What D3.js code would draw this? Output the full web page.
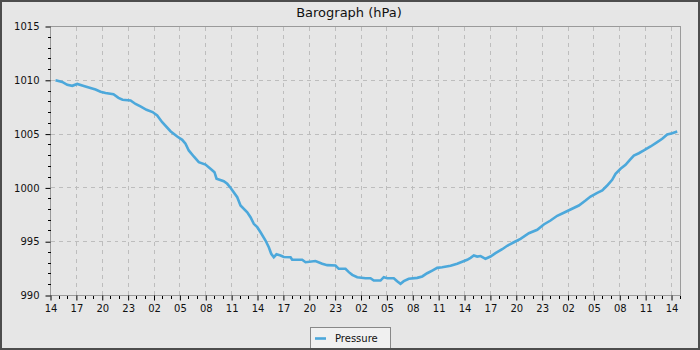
<!DOCTYPE html>
<html>
<head>
<meta charset="utf-8">
<script src="https://cdn.jsdelivr.net/npm/d3@7"></script>
<style>
  html, body { margin: 0; padding: 0; background: #e6e6e6; }
  svg { display: block; }
  text { font-family: "DejaVu Sans", sans-serif; fill: #111; }
</style>
</head>
<body>
<svg id="chart" width="700" height="350"></svg>
<script>
// ---- data (hours since 14:00 of first day, pressure in hPa) ----
const hours = [0.58,1.36,1.94,2.52,3.10,3.86,4.44,5.22,5.80,6.38,7.30,7.88,8.35,9.28,9.86,10.43,11.13,11.83,12.37,12.95,
  13.91,14.69,15.27,15.65,16.03,16.61,17.19,17.97,18.55,19.01,19.25,20.09,20.49,20.87,21.65,22.03,22.81,23.19,23.57,23.97,
  24.35,24.93,25.31,25.59,25.89,26.20,26.67,27.05,27.83,28.02,29.18,29.57,30.72,31.50,32.08,33.04,33.42,34.20,34.59,34.98,
  35.56,36.52,37.10,37.48,38.26,38.64,39.04,39.80,40.19,40.58,40.96,41.54,42.52,43.10,43.67,44.26,44.83,45.41,46.38,47.15,
  47.73,48.31,48.70,49.08,49.47,49.86,50.43,51.01,51.59,52.37,52.95,53.72,54.49,55.46,56.43,57.19,57.97,58.75,59.51,60.29,
  61.25,62.03,62.61,63.39,63.97,64.54,65.12,65.51,66.09,66.67,67.17,67.63,68.21,68.79,69.57,70.34,70.92,71.50,72.08,72.66];
const pressure = [1010.0,1009.85,1009.58,1009.49,1009.66,1009.47,1009.33,1009.14,1008.94,1008.82,1008.71,1008.37,1008.19,1008.12,1007.80,1007.57,1007.26,1007.05,1006.73,1006.11,
  1005.27,1004.78,1004.47,1004.10,1003.48,1002.92,1002.39,1002.17,1001.78,1001.46,1000.85,1000.62,1000.38,1000.01,999.14,998.36,997.74,997.28,996.66,996.35,
  995.88,995.11,994.49,993.88,993.56,993.83,993.72,993.58,993.56,993.32,993.32,993.09,993.21,992.95,992.82,992.79,992.48,992.48,992.17,991.92,
  991.70,991.61,991.61,991.39,991.39,991.70,991.61,991.61,991.33,991.09,991.33,991.55,991.64,991.77,992.07,992.32,992.57,992.63,992.76,992.95,
  993.13,993.32,993.50,993.72,993.62,993.67,993.41,993.62,993.93,994.30,994.62,994.95,995.27,995.79,996.11,996.60,996.97,997.41,997.69,997.99,
  998.36,998.83,999.20,999.54,999.76,1000.22,1000.75,1001.31,1001.78,1002.15,1002.61,1003.01,1003.22,1003.48,1003.85,1004.25,1004.56,1004.96,1005.08,1005.24];
const xTickHours = [0,3,6,9,12,15,18,21,24,27,30,33,36,39,42,45,48,51,54,57,60,63,66,69,72];
const xTickLabels = ["14","17","20","23","02","05","08","11","14","17","20","23","02","05","08","11","14","17","20","23","02","05","08","11","14"];
const yTicks = [990,995,1000,1005,1010,1015];
const xDomain = [0, 73.04];
const yDomain = [990, 1015];
const titleText = "Barograph (hPa)";
const seriesName = "Pressure";

// ---- layout ----
const W = 700, H = 350;
const L = 50.5, R = 680.5, T = 26.5, B = 295.5;
const lineColor = "#4ca8db";

const svg = d3.select("#chart");
svg.append("rect").attr("x", 0).attr("y", 0).attr("width", W).attr("height", H).attr("fill", "#e6e6e6");
svg.append("rect").attr("x", 1).attr("y", 1).attr("width", W - 2).attr("height", H - 2)
  .attr("fill", "none").attr("stroke", "#4d4d4d").attr("stroke-width", 2);

const x = d3.scaleLinear().domain(xDomain).range([L, R]);
const y = d3.scaleLinear().domain(yDomain).range([B, T]);

// plot background
svg.append("rect").attr("x", L).attr("y", T).attr("width", R - L).attr("height", B - T).attr("fill", "#e6e6e6");

// grid
const grid = svg.append("g").attr("stroke", "#bdbdbd").attr("stroke-dasharray", "4,4").attr("shape-rendering", "crispEdges");
grid.selectAll("line.v").data(xTickHours.filter(h => h > 0)).enter().append("line")
  .attr("x1", d => Math.round(x(d) - 0.5) + 0.5).attr("x2", d => Math.round(x(d) - 0.5) + 0.5)
  .attr("y1", T).attr("y2", B);
grid.selectAll("line.h").data(yTicks.filter(v => v > yDomain[0] && v < yDomain[1])).enter().append("line")
  .attr("y1", d => Math.round(y(d) - 0.5) + 0.5).attr("y2", d => Math.round(y(d) - 0.5) + 0.5)
  .attr("x1", L).attr("x2", R);

// clip
svg.append("clipPath").attr("id", "clip").append("rect")
  .attr("x", L).attr("y", T).attr("width", R - L).attr("height", B - T);

// line
const pts = hours.map((h, i) => [h, pressure[i]]);
const line = d3.line().x(d => x(d[0])).y(d => y(d[1])).curve(d3.curveLinear);
svg.append("path").datum(pts).attr("d", line).attr("fill", "none")
  .attr("stroke", lineColor).attr("stroke-width", 2.6).attr("stroke-linejoin", "miter")
  .attr("clip-path", "url(#clip)");

// plot border
svg.append("rect").attr("x", L).attr("y", T).attr("width", R - L).attr("height", B - T)
  .attr("fill", "none").attr("stroke", "#9a9a9a").attr("stroke-width", 1).attr("shape-rendering", "crispEdges");

// axes
const fmtX = h => xTickLabels[xTickHours.indexOf(h)];
const xAxis = d3.axisBottom(x).tickValues(xTickHours).tickFormat(fmtX).tickSize(5).tickPadding(4);
const gx = svg.append("g").attr("transform", `translate(0,${B})`).call(xAxis);
gx.select(".domain").remove();
gx.selectAll("line").attr("stroke", "#000");
gx.selectAll("text").attr("font-size", 10).attr("font-family", "DejaVu Sans").attr("fill", "#111");

const xMinor = d3.range(0, 74, 1).filter(h => h % 3 !== 0 && h <= xDomain[1]);
svg.append("g").selectAll("line").data(xMinor).enter().append("line")
  .attr("x1", d => x(d)).attr("x2", d => x(d)).attr("y1", B).attr("y2", B + 3)
  .attr("stroke", "#000").attr("shape-rendering", "crispEdges");

const yAxis = d3.axisLeft(y).tickValues(yTicks).tickFormat(d3.format("d")).tickSize(5).tickPadding(6);
const gy = svg.append("g").attr("transform", `translate(${L},0)`).call(yAxis);
gy.select(".domain").remove();
gy.selectAll("line").attr("stroke", "#000");
gy.selectAll("text").attr("font-size", 10).attr("font-family", "DejaVu Sans").attr("fill", "#111");

const yMinor = d3.range(991, 1015, 1).filter(v => v % 5 !== 0);
svg.append("g").selectAll("line").data(yMinor).enter().append("line")
  .attr("y1", d => y(d)).attr("y2", d => y(d)).attr("x1", L - 3).attr("x2", L)
  .attr("stroke", "#000").attr("shape-rendering", "crispEdges");

// title
svg.append("text").attr("x", 349).attr("y", 17).attr("text-anchor", "middle")
  .attr("font-size", 13).text(titleText);

// legend
const lg = svg.append("g");
lg.append("rect").attr("x", 310.5).attr("y", 327.5).attr("width", 80).attr("height", 22)
  .attr("fill", "#f0f0f0").attr("stroke", "#888").attr("shape-rendering", "crispEdges");
lg.append("line").attr("x1", 315).attr("x2", 326).attr("y1", 338.5).attr("y2", 338.5)
  .attr("stroke", lineColor).attr("stroke-width", 2.6);
lg.append("text").attr("x", 335).attr("y", 342).attr("font-size", 10).text(seriesName);

// redraw outer border on top
svg.append("rect").attr("x", 1).attr("y", 1).attr("width", W - 2).attr("height", H - 2)
  .attr("fill", "none").attr("stroke", "#4d4d4d").attr("stroke-width", 2);
</script>
</body>
</html>
